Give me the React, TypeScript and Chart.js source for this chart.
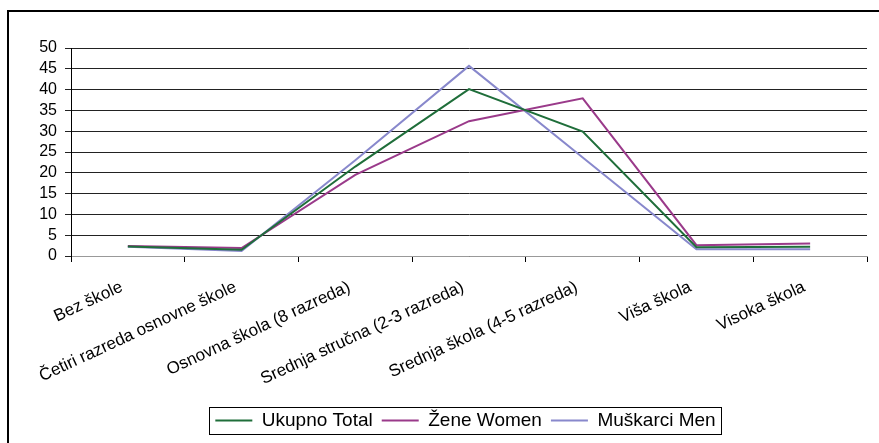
import React, { useEffect, useRef } from "react";
import { Chart, registerables } from "chart.js";

Chart.register(...registerables);

const categories = [
  "Bez škole",
  "Četiri razreda osnovne škole",
  "Osnovna škola (8 razreda)",
  "Srednja stručna (2-3 razreda)",
  "Srednja škola (4-5 razreda)",
  "Viša škola",
  "Visoka škola",
];
const totalValues = [2.3, 1.5, 21.5, 40.1, 29.9, 2.1, 2.2];
const womenValues = [2.4, 1.9, 19.5, 32.4, 37.9, 2.6, 3.0];
const menValues = [2.2, 1.2, 23.0, 45.7, 23.7, 1.6, 1.6];
const seriesNames = ["Ukupno Total", "Žene Women", "Muškarci Men"];
const yTicks = { min: 0, max: 50, step: 5 };

const FONT = "'Liberation Sans', Arial, sans-serif";
const LEGEND_SHIFT = 32;

const framePlugin = {
  id: "frame",
  afterUpdate(chart: any) {
    const lg = chart.legend;
    if (!lg) return;
    lg.left += LEGEND_SHIFT;
    lg.right += LEGEND_SHIFT;
    if (lg.legendHitBoxes) {
      for (const hb of lg.legendHitBoxes) hb.left += LEGEND_SHIFT;
    }
  },
  beforeDraw(chart: any) {
    const ctx = chart.ctx;
    ctx.save();
    ctx.fillStyle = "#fff";
    ctx.fillRect(0, 0, chart.width, chart.height);
    ctx.strokeStyle = "#000";
    ctx.lineWidth = 2;
    ctx.beginPath();
    ctx.moveTo(8, chart.height + 5);
    ctx.lineTo(8, 11);
    ctx.lineTo(chart.width + 5, 11);
    ctx.stroke();
    ctx.restore();
  },
  afterDraw(chart: any) {
    const lg = chart.legend;
    if (!lg || !lg.legendHitBoxes || !lg.legendHitBoxes.length) return;
    const boxes = lg.legendHitBoxes;
    let l = Infinity, r = -Infinity, t = Infinity, b = -Infinity;
    for (const hb of boxes) {
      l = Math.min(l, hb.left);
      r = Math.max(r, hb.left + hb.width);
      t = Math.min(t, hb.top);
      b = Math.max(b, hb.top + hb.height);
    }
    const ctx = chart.ctx;
    ctx.save();
    ctx.strokeStyle = "#000";
    ctx.lineWidth = 1;
    ctx.strokeRect(Math.round(l - 6) + 0.5, Math.round(t - 4) + 0.5, Math.round(r - l + 12), Math.round(b - t + 8));
    ctx.restore();
  },
};

export default function App() {
  const ref = useRef<HTMLCanvasElement>(null);
  useEffect(() => {
    if (!ref.current) return;
    const mk = (label: string, data: number[], color: string) => ({
      label,
      data,
      borderColor: color,
      backgroundColor: color,
      borderWidth: 2,
      pointRadius: 0,
      tension: 0,
      fill: false,
    });
    const chart = new Chart(ref.current, {
      type: "line",
      data: {
        labels: categories,
        datasets: [
          mk(seriesNames[0], totalValues, "#1f6e3a"),
          mk(seriesNames[1], womenValues, "#9a3a8a"),
          mk(seriesNames[2], menValues, "#8888cc"),
        ],
      },
      options: {
        responsive: false,
        animation: false,
        layout: { padding: { top: 48, left: 0, right: 12, bottom: 3 } },
        plugins: {
          tooltip: { enabled: false },
          legend: {
            position: "bottom",
            labels: {
              font: { family: FONT, size: 19 },
              color: "#000",
              boxWidth: 37,
              boxHeight: 0,
              padding: 9,
            },
          },
        },
        scales: {
          x: {
            type: "category",
            offset: true,
            grid: {
              offset: true,
              drawOnChartArea: false,
              drawTicks: true,
              tickLength: 6,
              color: "#000",
            },
            border: { color: "#999", width: 1 },
            ticks: {
              autoSkip: false,
              minRotation: 25,
              maxRotation: 25,
              padding: 15,
              labelOffset: -6,
              color: "#000",
              font: { family: FONT, size: 17 },
            },
            afterFit(scale: any) {
              scale.height = 146;
            },
          },
          y: {
            min: yTicks.min,
            max: yTicks.max,
            grid: { color: "#222", tickLength: 6, lineWidth: 1 },
            border: { color: "#000", width: 1 },
            ticks: {
              stepSize: yTicks.step,
              autoSkip: false,
              padding: 8,
              color: "#000",
              font: { family: FONT, size: 16 },
            },
            afterFit(scale: any) {
              scale.width = 71;
            },
          },
        },
      },
      plugins: [framePlugin],
    });
    return () => chart.destroy();
  }, []);
  return (
    <canvas
      ref={ref}
      width={879}
      height={443}
      style={{ position: "absolute", left: 0, top: 0, width: 879, height: 443 }}
    />
  );
}
